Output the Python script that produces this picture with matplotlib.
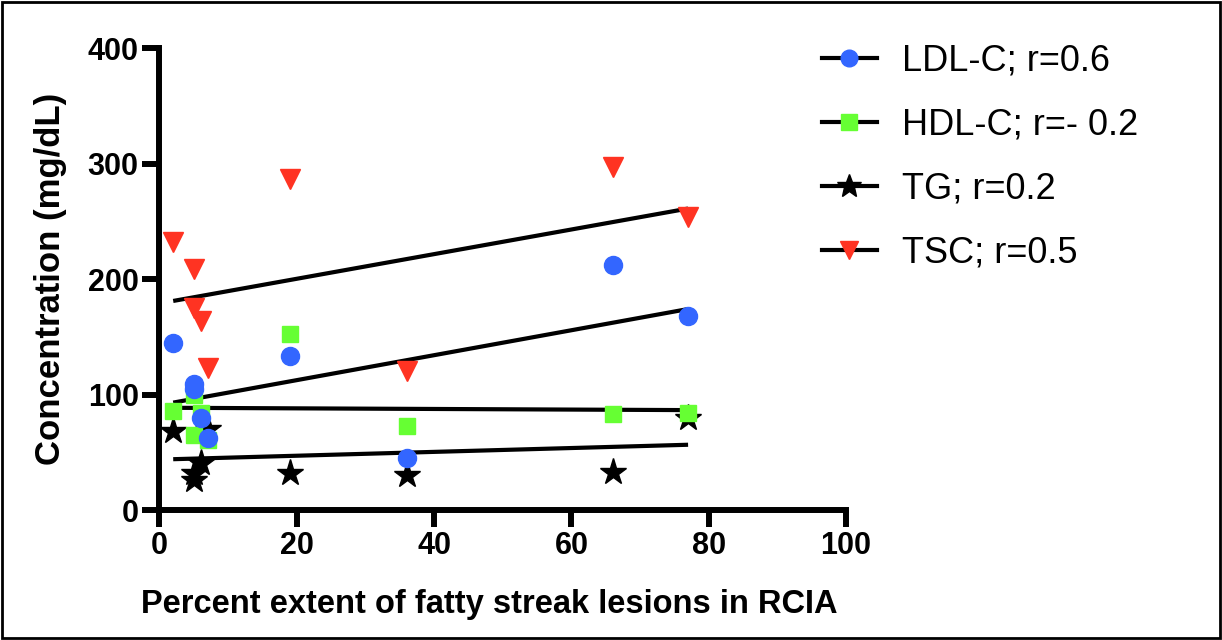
import matplotlib.pyplot as plt
from matplotlib.lines import Line2D
from matplotlib.patches import Rectangle

plt.rcParams['font.family'] = ['Liberation Sans', 'DejaVu Sans']

# percent extent of fatty streak lesions for each subject
lesion_pct = [2, 5, 5, 6, 7, 19, 36, 66, 77]

ldl = [145, 109, 105, 80, 62, 133, 45, 212, 168]
hdl = [86, 100, 65, 84, 61, 152, 73, 83, 84]
tg = [68, 32, 26, 41, 70, 32, 30, 33, 80]
tsc = [232, 209, 175, 164, 123, 287, 120, 297, 254]

# regression line ends
fit_x = [2, 77]
ldl_fit = [93, 174]
hdl_fit = [88.5, 86.5]
tg_fit = [44, 56.5]
tsc_fit = [181, 261]

labels = ['LDL-C; r=0.6', 'HDL-C; r=- 0.2', 'TG; r=0.2', 'TSC; r=0.5']

blue = '#3366ff'
green = '#66ff33'
red = '#ff3322'

fig = plt.figure(figsize=(12.22, 6.4), dpi=100)
ax = fig.add_axes([0.1305, 0.2031, 0.5618, 0.7219])

# regression lines
for fy in [ldl_fit, hdl_fit, tg_fit, tsc_fit]:
    ax.plot(fit_x, fy, color='black', lw=3, solid_capstyle='butt', zorder=2)

# points
ax.plot(lesion_pct, tg, ls='none', marker='*', ms=20, color='black', zorder=3)
ax.plot(lesion_pct, hdl, ls='none', marker='s', ms=12, color=green, zorder=4)
ax.plot(lesion_pct, ldl, ls='none', marker='o', ms=13, color=blue, zorder=5)
ax.plot(lesion_pct, tsc, ls='none', marker='v', ms=14, color=red, zorder=6)

ax.set_xlim(0, 100)
ax.set_ylim(0, 400)
ax.set_xticks([0, 20, 40, 60, 80, 100])
ax.set_yticks([0, 100, 200, 300, 400])

for side in ['top', 'right']:
    ax.spines[side].set_visible(False)
for side in ['left', 'bottom']:
    ax.spines[side].set_linewidth(4.3)
    ax.spines[side].set_capstyle('projecting')

ax.tick_params(direction='out', length=12, width=4.3, pad=3, labelsize=22)
for t in ax.get_xticklabels() + ax.get_yticklabels():
    t.set_fontweight('bold')

ax.set_xlabel('Percent extent of fatty streak lesions in RCIA', fontsize=23.5,
              fontweight='bold')
ax.xaxis.set_label_coords(0.481, -0.17)
ax.set_ylabel('Concentration (mg/dL)', fontsize=25, fontweight='bold', labelpad=15)

handles = [
    Line2D([], [], color='black', lw=3, marker='o', ms=12, mfc=blue, mec=blue),
    Line2D([], [], color='black', lw=3, marker='s', ms=11, mfc=green, mec=green),
    Line2D([], [], color='black', lw=3, marker='*', ms=18, mfc='black', mec='black'),
    Line2D([], [], color='black', lw=3, marker='v', ms=13, mfc=red, mec=red),
]
fig.legend(handles, labels, loc='upper left', bbox_to_anchor=(0.673, 0.932),
           frameon=False, fontsize=26, handlelength=1.5, handletextpad=0.7,
           labelspacing=0.8, borderpad=0, borderaxespad=0, numpoints=1)

# outer frame round the whole picture
fig.patches.append(Rectangle((0.002, 0.003), 0.996, 0.994, transform=fig.transFigure,
                             fill=False, edgecolor='black', lw=2))

fig.savefig('out.png', dpi=100)
